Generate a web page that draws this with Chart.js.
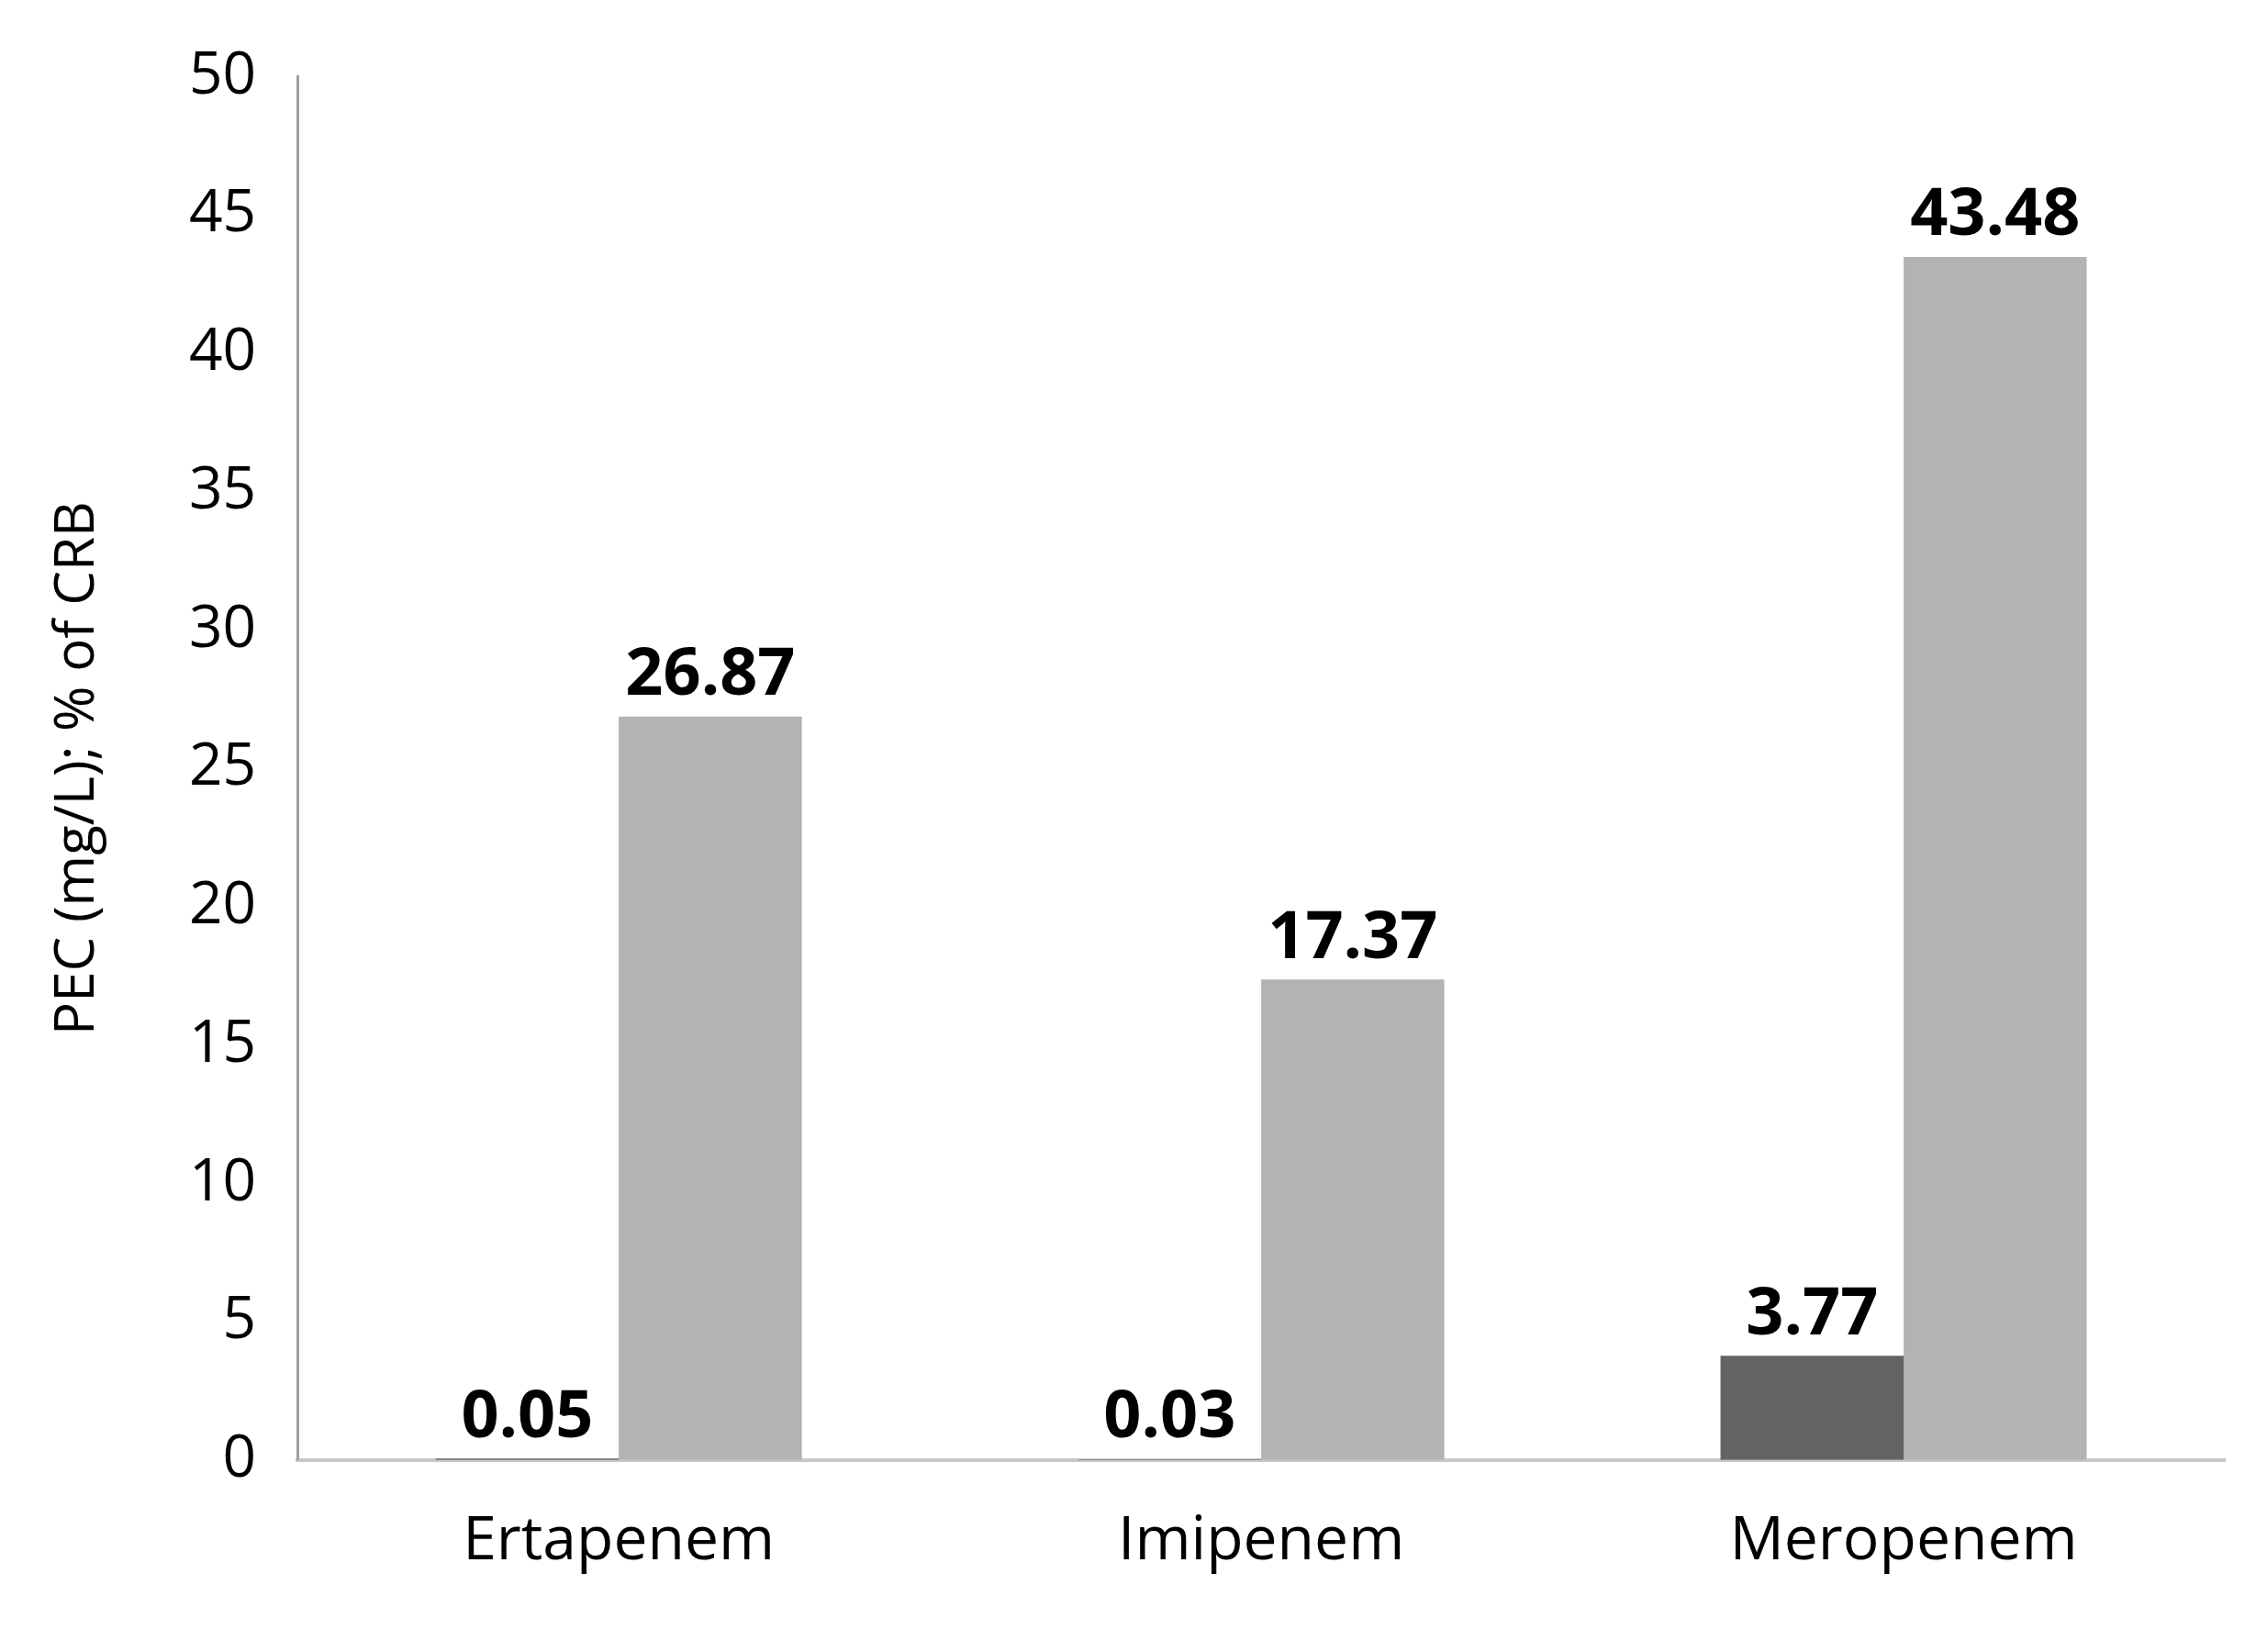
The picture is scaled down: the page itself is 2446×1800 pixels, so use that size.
<!DOCTYPE html>
<html><head><meta charset="utf-8">
<script src="https://cdn.jsdelivr.net/npm/chart.js@4/dist/chart.umd.min.js"></script>
<style>html,body{margin:0;background:#fff}#w{width:2446px;height:1800px}</style>
</head><body><div id="w"><canvas id="c"></canvas></div>
<script>
const categories = ["Ertapenem", "Imipenem", "Meropenem"];
const pecValues = [0.05, 0.03, 3.77];
const crbValues = [26.87, 17.37, 43.48];
const yTicks = [0, 5, 10, 15, 20, 25, 30, 35, 40, 45, 50];
const FONT = "'Open Sans', 'Liberation Sans', sans-serif";

const labelPlugin = {
  id: 'lbl',
  afterDatasetsDraw(chart) {
    const ctx = chart.ctx;
    ctx.save();
    ctx.font = "bold 72px " + FONT;
    ctx.fillStyle = "#000";
    ctx.textAlign = "center";
    ctx.textBaseline = "bottom";
    chart.data.datasets.forEach((ds, i) => {
      chart.getDatasetMeta(i).data.forEach((bar, j) => {
        ctx.fillText(ds.data[j].toFixed(2), bar.x, bar.y - 8);
      });
    });
    ctx.restore();
  }
};

new Chart(document.getElementById('c'), {
  type: 'bar',
  data: {
    labels: categories,
    datasets: [
      { label: 'PEC', data: pecValues, backgroundColor: '#636363' },
      { label: '% of CRB', data: crbValues, backgroundColor: '#b3b3b3' }
    ]
  },
  options: {
    responsive: true, maintainAspectRatio: false, animation: false,
    devicePixelRatio: 1,
    layout: { padding: { top: 45, right: 22, bottom: 30, left: 45 } },
    plugins: { legend: { display: false }, tooltip: { enabled: false } },
    datasets: { bar: { categoryPercentage: 0.57, barPercentage: 1 } },
    scales: {
      x: {
        grid: { display: false, drawTicks: false },
        border: { color: '#c8c8c8', width: 4 },
        ticks: { font: { size: 66, family: FONT }, color: '#000', padding: 50 }
      },
      y: {
        min: 0, max: 50,
        afterBuildTicks: ax => { ax.ticks = yTicks.map(v => ({ value: v })); },
        grid: { display: false, drawTicks: false },
        border: { color: '#a0a0a0', width: 3 },
        ticks: { font: { size: 64, family: FONT }, color: '#000', padding: 45 },
        title: { display: true, text: 'PEC (mg/L); % of CRB', font: { size: 60, family: FONT }, color: '#000', padding: { bottom: 40 } }
      }
    }
  },
  plugins: [labelPlugin]
});
</script></body></html>
